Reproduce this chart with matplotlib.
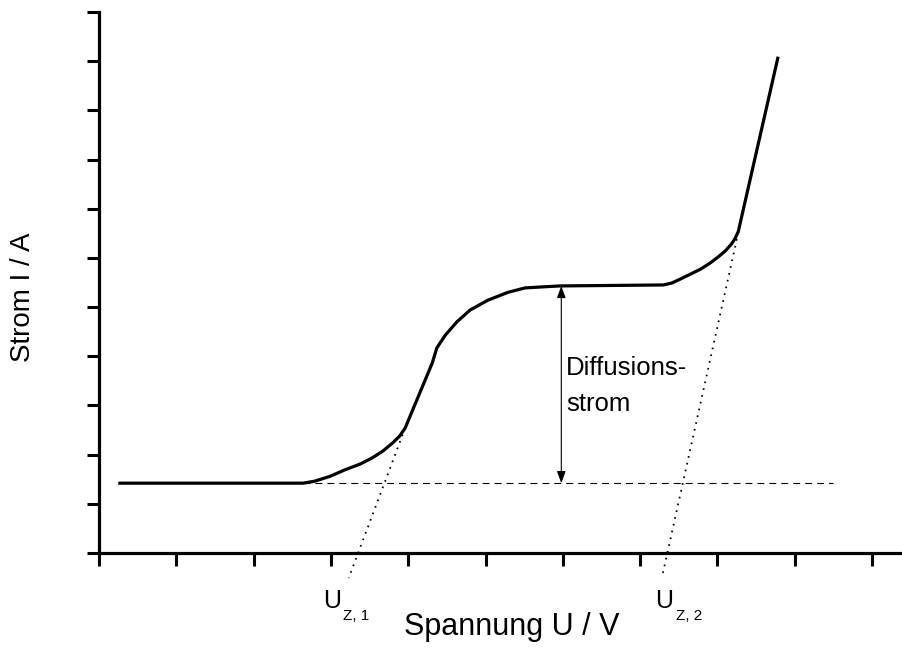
import matplotlib
matplotlib.use("Agg")
import matplotlib.pyplot as plt
import numpy as np

plt.rcParams['font.family'] = ['Liberation Sans', 'DejaVu Sans']
plt.rcParams['lines.scale_dashes'] = False

# Strom-Spannungs-Kurve
spannung = [0.27, 2.64, 2.79, 2.99, 3.18, 3.38, 3.53, 3.67, 3.80, 3.89, 3.96,
            4.31, 4.37, 4.48, 4.63, 4.80, 5.03, 5.29, 5.51, 5.73, 5.96,
            7.30, 7.41, 7.52, 7.65, 7.78, 7.90, 8.01, 8.10, 8.18, 8.23, 8.27, 8.78]
strom = [1.42, 1.42, 1.46, 1.56, 1.69, 1.81, 1.93, 2.07, 2.24, 2.38, 2.54,
         3.86, 4.17, 4.43, 4.70, 4.94, 5.14, 5.30, 5.39, 5.41, 5.43,
         5.45, 5.49, 5.57, 5.67, 5.77, 5.89, 6.02, 6.14, 6.28, 6.40, 6.54, 10.06]

# Grundstrom (gestrichelt)
grund_u = [2.64, 9.50]
grund_i = [1.42, 1.42]

# Tangenten (gepunktet)
tangente1_u = [3.96, 3.23]
tangente1_i = [2.54, -0.51]
tangente2_u = [8.27, 7.28]
tangente2_i = [6.52, -0.51]

# Diffusionsstrom-Pfeil
pfeil_u = 5.98
pfeil_i = [1.42, 5.43]

fig = plt.figure(figsize=(9.03, 6.48), dpi=100)
ax = fig.add_axes([99 / 903, 95 / 648, 804 / 903, 541 / 648])

ax.plot(spannung, strom, color='black', lw=2.3, solid_joinstyle='round')
ax.plot(grund_u, grund_i, color='black', lw=0.8, dashes=(5, 3.6))
ax.plot(tangente1_u, tangente1_i, color='black', lw=1.3, dashes=(1.2, 3.8), clip_on=False)
ax.plot(tangente2_u, tangente2_i, color='black', lw=1.3, dashes=(1.2, 3.8), clip_on=False)

ax.annotate('', xy=(pfeil_u, pfeil_i[1]), xytext=(pfeil_u, pfeil_i[0]),
            arrowprops=dict(arrowstyle='<|-|>,head_length=0.6,head_width=0.22',
                            lw=0.8, color='black', mutation_scale=12,
                            shrinkA=0, shrinkB=0))

ax.text(6.04, 3.62, 'Diffusions-', fontsize=18.5, va='baseline', ha='left')
ax.text(6.04, 2.89, 'strom', fontsize=18.5, va='baseline', ha='left')

# Zersetzungsspannungen
ax.text(2.90, -1.12, 'U', fontsize=18, va='baseline', ha='left', clip_on=False)
ax.text(3.16, -1.36, 'Z, 1', fontsize=11, va='baseline', ha='left', clip_on=False)
ax.text(7.20, -1.12, 'U', fontsize=18, va='baseline', ha='left', clip_on=False)
ax.text(7.46, -1.36, 'Z, 2', fontsize=11, va='baseline', ha='left', clip_on=False)

ax.set_xlim(0, 10.4)
ax.set_ylim(0, 11)
ax.set_xticks(np.arange(0, 11, 1))
ax.set_yticks(np.arange(0, 12, 1))
ax.set_xticklabels([])
ax.set_yticklabels([])
ax.tick_params(direction='out', length=9, width=2.2, color='black')

for side in ['top', 'right']:
    ax.spines[side].set_visible(False)
for side in ['left', 'bottom']:
    ax.spines[side].set_linewidth(2.3)

fig.text(512 / 903, 1 - 635 / 648, 'Spannung U / V', fontsize=22,
         ha='center', va='baseline')
fig.text(23 / 903, 1 - 297 / 648, 'Strom I / A', fontsize=20,
         rotation=90, ha='center', va='center')

fig.savefig('out.png', dpi=100)
